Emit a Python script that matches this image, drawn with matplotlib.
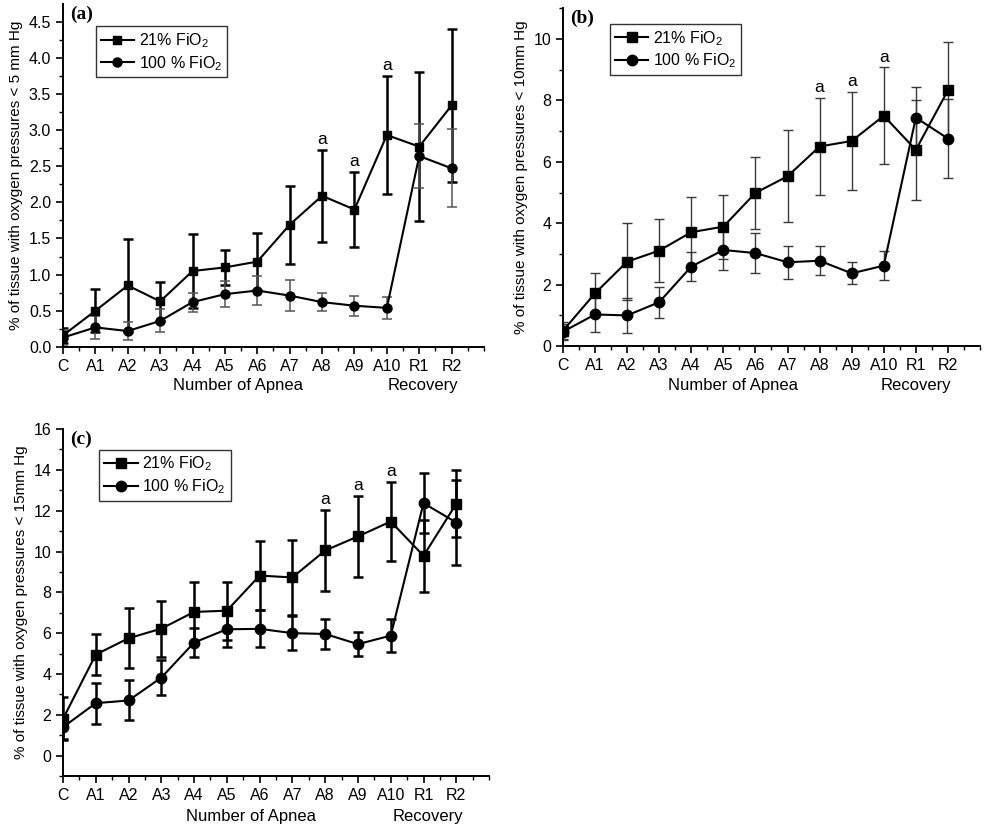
import matplotlib
matplotlib.use('Agg')
import matplotlib.pyplot as plt
from matplotlib.ticker import MultipleLocator

plt.rcParams['font.family'] = ['Liberation Sans', 'DejaVu Sans']

# x categories
labels = ['C', 'A1', 'A2', 'A3', 'A4', 'A5', 'A6', 'A7', 'A8', 'A9', 'A10', 'R1', 'R2']
x = list(range(len(labels)))

# panel (a): < 5 mm Hg
a_21 = [0.16, 0.50, 0.85, 0.63, 1.05, 1.10, 1.18, 1.69, 2.09, 1.90, 2.93, 2.77, 3.34]
a_21_err = [0.10, 0.30, 0.64, 0.27, 0.51, 0.24, 0.39, 0.54, 0.64, 0.52, 0.82, 1.03, 1.06]
a_100 = [0.13, 0.27, 0.22, 0.36, 0.62, 0.73, 0.78, 0.71, 0.62, 0.57, 0.54, 2.64, 2.47]
a_100_err = [0.10, 0.16, 0.12, 0.16, 0.13, 0.18, 0.20, 0.21, 0.12, 0.14, 0.15, 0.44, 0.54]

# panel (b): < 10 mm Hg
b_21 = [0.50, 1.72, 2.75, 3.11, 3.71, 3.89, 4.99, 5.53, 6.50, 6.68, 7.50, 6.39, 8.33]
b_21_err = [0.30, 0.65, 1.25, 1.02, 1.15, 1.04, 1.17, 1.50, 1.58, 1.60, 1.58, 1.62, 1.57]
b_100 = [0.47, 1.03, 1.00, 1.43, 2.59, 3.13, 3.03, 2.73, 2.78, 2.37, 2.62, 7.44, 6.76]
b_100_err = [0.25, 0.57, 0.56, 0.51, 0.46, 0.65, 0.64, 0.54, 0.47, 0.36, 0.48, 0.99, 1.29]

# panel (c): < 15 mm Hg
c_21 = [1.80, 4.95, 5.75, 6.22, 7.04, 7.10, 8.82, 8.73, 10.05, 10.74, 11.47, 9.79, 12.34]
c_21_err = [1.05, 1.00, 1.47, 1.37, 1.45, 1.43, 1.70, 1.84, 1.98, 2.00, 1.95, 1.77, 1.63]
c_100 = [1.39, 2.57, 2.70, 3.82, 5.54, 6.19, 6.21, 6.00, 5.96, 5.46, 5.88, 12.37, 11.42]
c_100_err = [0.60, 1.00, 0.98, 0.85, 0.73, 0.88, 0.90, 0.85, 0.72, 0.60, 0.80, 1.47, 2.10]

sig_points = [8, 9, 10]  # A8, A9, A10 marked "a"

panels = [
    dict(rect=[0.0635, 0.583, 0.4244, 0.412], ylim=(0, 4.74), major=0.5, minor=0.25, fmt='%.1f',
         s21=a_21, e21=a_21_err, s100=a_100, e100=a_100_err,
         ylabel='% of tissue with oxygen pressures < 5 mm Hg', tag='(a)',
         leg=(0.078, 0.935), ecol21='black', elw21=1.8, ecol100='#555555', elw100=1.1,
         ms=6.5, apnea_x=5.4, rec_x=11.1, lab_off=-27.5),
    dict(rect=[0.5675, 0.584, 0.4204, 0.406], ylim=(0, 11), major=2, minor=1, fmt='%d',
         s21=b_21, e21=b_21_err, s100=b_100, e100=b_100_err,
         ylabel='% of tissue with oxygen pressures < 10mm Hg', tag='(b)',
         leg=(0.113, 0.953), ecol21='#3a3a3a', elw21=1.0, ecol100='#3a3a3a', elw100=1.0,
         ms=7.5, apnea_x=5.3, rec_x=11.0, lab_off=-28),
    dict(rect=[0.0635, 0.0673, 0.4295, 0.417], ylim=(-1, 16), major=2, minor=1, fmt='%d',
         s21=c_21, e21=c_21_err, s100=c_100, e100=c_100_err,
         ylabel='% of tissue with oxygen pressures < 15mm Hg', tag='(c)',
         leg=(0.085, 0.94), ecol21='black', elw21=1.8, ecol100='black', elw100=1.8,
         ms=7.5, apnea_x=5.75, rec_x=11.15, lab_off=-29.5),
]

fig = plt.figure(figsize=(9.92, 8.32), dpi=100)

for p in panels:
    ax = fig.add_axes(p['rect'])
    # error bars
    ax.errorbar(x, p['s21'], yerr=p['e21'], fmt='none', ecolor=p['ecol21'],
                elinewidth=p['elw21'], capsize=3.5, capthick=p['elw21'], zorder=2)
    ax.errorbar(x, p['s100'], yerr=p['e100'], fmt='none', ecolor=p['ecol100'],
                elinewidth=p['elw100'], capsize=3.5, capthick=p['elw100'], zorder=2)
    # lines with markers
    ax.plot(x, p['s21'], color='black', lw=1.5, marker='s', ms=p['ms'] - 0.5,
            label='21% FiO$_\\mathregular{2}$', zorder=3)
    ax.plot(x, p['s100'], color='black', lw=1.5, marker='o', ms=p['ms'],
            label='100 % FiO$_\\mathregular{2}$', zorder=3)

    # "a" marks above the upper error cap
    for i in sig_points:
        top = p['s21'][i] + p['e21'][i]
        ax.annotate('a', xy=(x[i], top), xytext=(0, 2), textcoords='offset points',
                    ha='center', va='bottom', fontsize=12.5)

    ax.set_xlim(0, 13)
    ax.set_ylim(*p['ylim'])
    ax.set_xticks(x)
    ax.set_xticklabels(labels)
    ax.xaxis.set_minor_locator(MultipleLocator(0.5))
    ax.yaxis.set_major_locator(MultipleLocator(p['major']))
    ax.yaxis.set_minor_locator(MultipleLocator(p['minor']))
    ax.yaxis.set_major_formatter(matplotlib.ticker.FormatStrFormatter(p['fmt']))
    ax.tick_params(which='major', direction='out', length=5, width=1.2, labelsize=11.5)
    ax.tick_params(which='minor', direction='out', length=3, width=1.0)
    for side in ['top', 'right']:
        ax.spines[side].set_visible(False)
    for side in ['left', 'bottom']:
        ax.spines[side].set_linewidth(1.4)

    ax.set_ylabel(p['ylabel'], fontsize=11, labelpad=4)

    # group labels under the x axis
    ax.annotate('Number of Apnea', xy=(p['apnea_x'], 0), xycoords=('data', 'axes fraction'),
                xytext=(0, p['lab_off']), textcoords='offset points', ha='center', va='center', fontsize=12)
    ax.annotate('Recovery', xy=(p['rec_x'], 0), xycoords=('data', 'axes fraction'),
                xytext=(0, p['lab_off']), textcoords='offset points', ha='center', va='center', fontsize=12)

    ax.text(0.017, 0.995, p['tag'], transform=ax.transAxes, ha='left', va='top',
            fontsize=14, fontweight='bold', family=['Liberation Serif', 'DejaVu Serif'])

    leg = ax.legend(loc='upper left', bbox_to_anchor=p['leg'], fontsize=11.5, fancybox=False,
                    edgecolor='#333333', framealpha=1, handlelength=2.1, borderpad=0.3,
                    labelspacing=0.25, handletextpad=0.3, borderaxespad=0)
    leg.get_frame().set_linewidth(1.0)

fig.savefig('out.png', dpi=100)
